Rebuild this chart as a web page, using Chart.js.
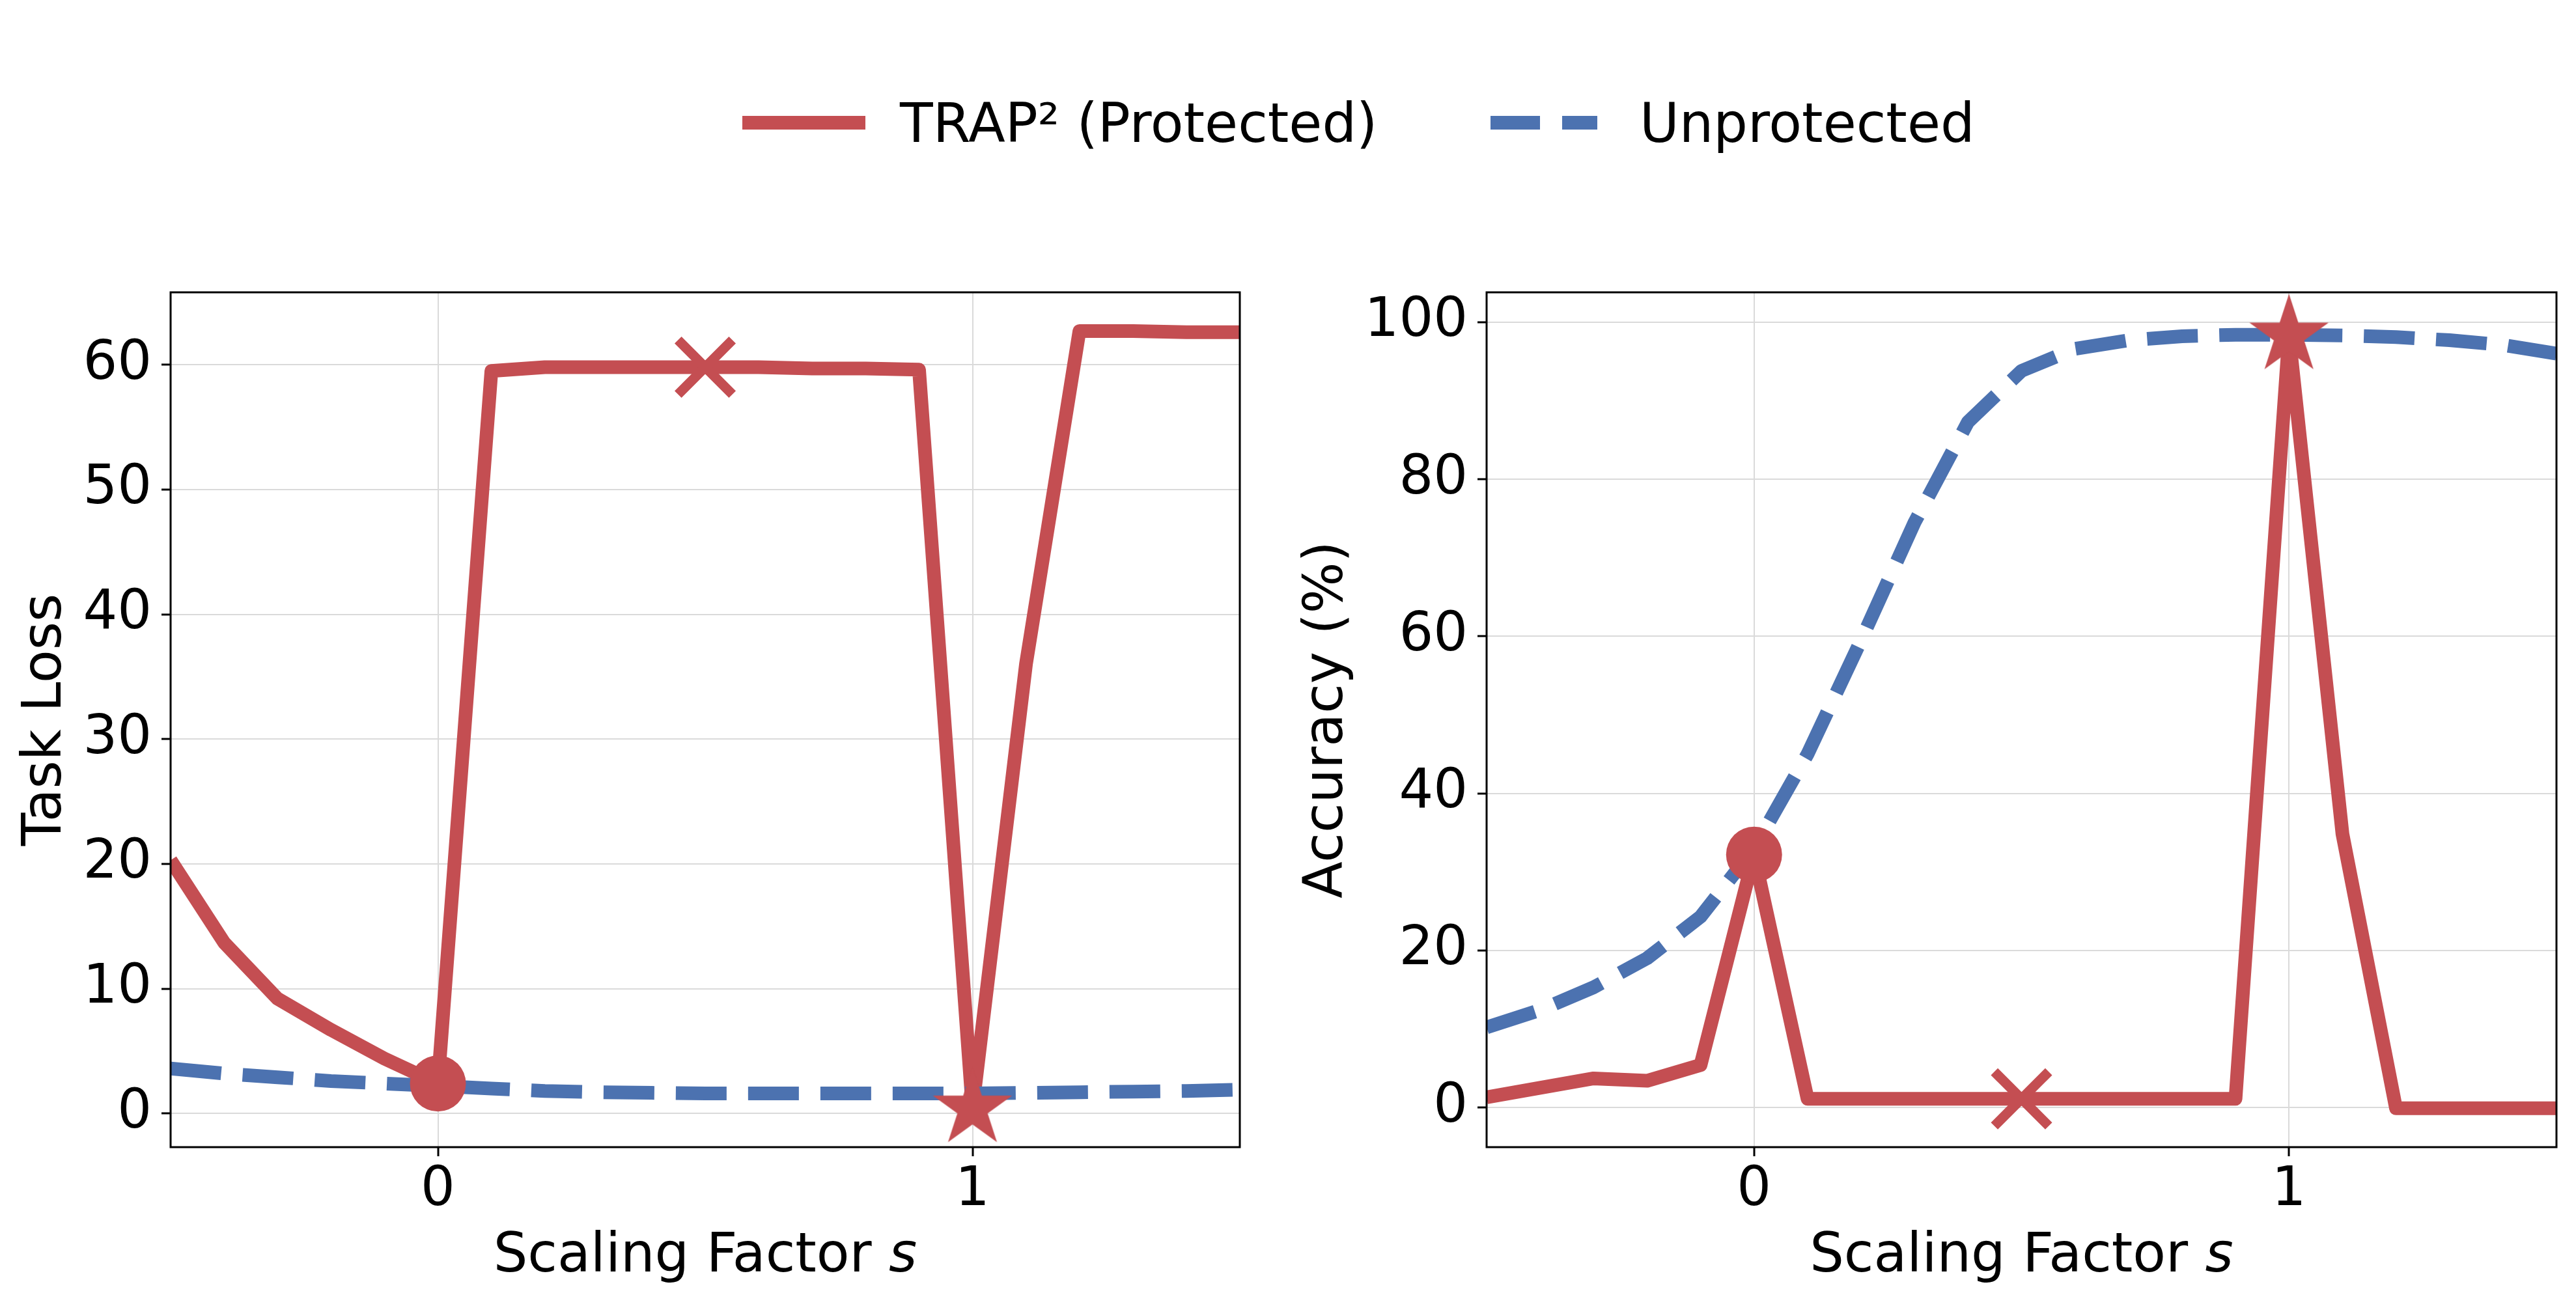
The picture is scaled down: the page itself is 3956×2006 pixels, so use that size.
<!DOCTYPE html>
<html>
<head>
<meta charset="utf-8">
<script src="https://cdn.jsdelivr.net/npm/chart.js@4/dist/chart.umd.min.js"></script>
<style>
  html, body { margin: 0; padding: 0; background: #fff; }
  body { width: 3956px; height: 2006px; position: relative; overflow: hidden; font-family: "DejaVu Sans", sans-serif; }
  canvas { position: absolute; left: 0; top: 0; }
  .lg-text { position: absolute; font-size: 83px; line-height: 83px; color: #000; white-space: nowrap; font-family: "DejaVu Sans", sans-serif; }
  .lg-swatch { position: absolute; height: 21px; }
</style>
</head>
<body>
<div class="lg-swatch" id="swRed" style="left:1140px; top:178px; width:189px; background:#C44E52;"></div>
<div class="lg-text" id="lgRed" style="left:1382px; top:148px;"></div>
<div class="lg-swatch" id="swBlue" style="left:2289px; top:178px; width:164px; background:repeating-linear-gradient(to right, #4C72B0 0px, #4C72B0 76px, transparent 76px, transparent 110px);"></div>
<div class="lg-text" id="lgBlue" style="left:2518px; top:148px;"></div>
<canvas id="cLoss" width="3956" height="2006"></canvas>
<canvas id="cAcc" width="3956" height="2006"></canvas>
<script>
// ---------------- data ----------------
const sValues = [-0.5, -0.4, -0.3, -0.2, -0.1, 0, 0.1, 0.2, 0.3, 0.4, 0.5, 0.6, 0.7, 0.8, 0.9, 1, 1.1, 1.2, 1.3, 1.4, 1.5];

const lossProtected   = [20.3, 13.7, 9.2, 6.7, 4.4, 2.4, 59.5, 59.8, 59.8, 59.8, 59.8, 59.8, 59.7, 59.7, 59.6, 0.4, 36.0, 62.7, 62.7, 62.6, 62.6];
const lossUnprotected = [3.6, 3.2, 2.9, 2.6, 2.4, 2.2, 2.0, 1.8, 1.7, 1.65, 1.6, 1.6, 1.6, 1.6, 1.6, 1.6, 1.65, 1.7, 1.75, 1.8, 1.9];

const accProtected    = [1.3, 2.5, 3.7, 3.4, 5.4, 32.2, 1.1, 1.1, 1.1, 1.1, 1.1, 1.1, 1.1, 1.1, 1.1, 98.3, 34.8, -0.1, -0.1, -0.1, -0.1];
const accUnprotected  = [10.2, 12.4, 15.3, 19.0, 24.3, 33.0, 45.0, 59.5, 74.5, 87.3, 93.8, 96.6, 97.7, 98.2, 98.4, 98.4, 98.3, 98.1, 97.7, 97.1, 96.0];

const xTickValues = [0, 1];
const lossTicks = [0, 10, 20, 30, 40, 50, 60];
const accTicks = [0, 20, 40, 60, 80, 100];

const markerS = [0, 0.5, 1];          // circle, cross, star on the protected curve
const seriesNames = ['TRAP\u00B2 (Protected)', 'Unprotected'];
const lossTitle = 'Task Loss';
const accTitle = 'Accuracy (%)';
const xTitleText = 'Scaling Factor ';
const xTitleVar = 's';

// ---------------- styles ----------------
const RED = '#C44E52';
const BLUE = '#4C72B0';
const GRID = '#dadada';
const FONT = '"DejaVu Sans"';
const FS = 83;

document.getElementById('lgRed').textContent = seriesNames[0];
document.getElementById('lgBlue').textContent = seriesNames[1];

Chart.defaults.font.family = FONT;
Chart.defaults.color = '#000';

// filled 5-point star image for the marker
function makeStar(R, color) {
  const size = Math.ceil(2 * R + 6);
  const c = document.createElement('canvas');
  c.width = size; c.height = size;
  const g = c.getContext('2d');
  const cx = size / 2, cy = size / 2;
  const r = R * 0.381966;
  g.beginPath();
  for (let i = 0; i < 10; i++) {
    const rad = (i % 2 === 0) ? R : r;
    const ang = -Math.PI / 2 + i * Math.PI / 5;
    const px = cx + rad * Math.cos(ang), py = cy + rad * Math.sin(ang);
    if (i === 0) g.moveTo(px, py); else g.lineTo(px, py);
  }
  g.closePath();
  g.fillStyle = color;
  g.fill();
  return c;
}
const starImg = makeStar(64, RED);

const framePlugin = {
  id: 'frame',
  afterDraw(chart) {
    const { ctx, chartArea: a } = chart;
    ctx.save();
    ctx.strokeStyle = '#000';
    ctx.lineWidth = 3;
    ctx.strokeRect(a.left, a.top, a.right - a.left, a.bottom - a.top);
    ctx.restore();
  }
};

const xTitlePlugin = {
  id: 'xTitle',
  afterDraw(chart) {
    const { ctx, chartArea: a } = chart;
    ctx.save();
    const fN = FS + 'px ' + FONT;
    const fI = 'italic ' + FS + 'px ' + FONT;
    ctx.font = fN; const w1 = ctx.measureText(xTitleText).width;
    ctx.font = fI; const w2 = ctx.measureText(xTitleVar).width;
    const cx = (a.left + a.right) / 2;
    const x0 = cx - (w1 + w2) / 2;
    const y = a.bottom + 191;
    ctx.fillStyle = '#000';
    ctx.textBaseline = 'alphabetic';
    ctx.textAlign = 'left';
    ctx.font = fN; ctx.fillText(xTitleText, x0, y);
    ctx.font = fI; ctx.fillText(xTitleVar, x0 + w1, y);
    ctx.restore();
  }
};

function idxOf(s) { return sValues.findIndex(v => Math.abs(v - s) < 1e-9); }

function makeChart(id, prot, unprot, yTicks, yMin, yMax, yTitle, pad, yWidth) {
  const axisGrid = { color: GRID, lineWidth: 2, tickColor: '#000', tickWidth: 3, tickLength: 14, drawTicks: true };
  return new Chart(document.getElementById(id), {
    type: 'line',
    data: {
      datasets: [
        {
          label: seriesNames[0],
          data: sValues.map((s, i) => ({ x: s, y: prot[i] })),
          borderColor: RED, backgroundColor: RED, borderWidth: 21,
          borderJoinStyle: 'round', borderCapStyle: 'butt',
          pointRadius: 0, tension: 0, clip: 0, order: 3
        },
        {
          label: seriesNames[1],
          data: sValues.map((s, i) => ({ x: s, y: unprot[i] })),
          borderColor: BLUE, backgroundColor: BLUE, borderWidth: 21,
          borderDash: [78, 33], borderCapStyle: 'butt', borderJoinStyle: 'round',
          pointRadius: 0, tension: 0, clip: 0, order: 2
        },
        {
          label: 'markers',
          data: markerS.map(s => ({ x: s, y: prot[idxOf(s)] })),
          showLine: false,
          pointStyle: ['circle', 'crossRot', starImg],
          pointRadius: [43, 59, 64],
          pointBorderWidth: [0, 15, 0],
          pointBackgroundColor: RED, pointBorderColor: RED,
          clip: 0, order: 1
        }
      ]
    },
    options: {
      responsive: false, animation: false, devicePixelRatio: 1,
      events: [],
      layout: { padding: pad, autoPadding: false },
      plugins: { legend: { display: false }, tooltip: { enabled: false }, title: { display: false } },
      scales: {
        x: {
          type: 'linear', min: -0.5, max: 1.5,
          afterBuildTicks: sc => { sc.ticks = xTickValues.map(v => ({ value: v })); },
          afterFit: sc => { sc.height = 244; sc.paddingLeft = 0; sc.paddingRight = 0; },
          grid: axisGrid,
          border: { display: false },
          ticks: { font: { size: FS }, color: '#000', padding: 4, maxRotation: 0, autoSkip: false },
          title: { display: false }
        },
        y: {
          type: 'linear', min: yMin, max: yMax,
          afterBuildTicks: sc => { sc.ticks = yTicks.map(v => ({ value: v })); },
          afterFit: sc => { sc.width = yWidth; sc.paddingTop = 0; sc.paddingBottom = 0; },
          grid: axisGrid,
          border: { display: false },
          ticks: { font: { size: FS }, color: '#000', padding: 15, autoSkip: false },
          title: { display: true, text: yTitle, color: '#000', font: { size: FS }, padding: { top: 22, bottom: 0 } }
        }
      }
    },
    plugins: [framePlugin, xTitlePlugin]
  });
}

makeChart('cLoss', lossProtected, lossUnprotected, lossTicks, -2.7, 65.8, lossTitle,
  { left: 0, right: 2052, top: 449, bottom: 0 }, 262);
makeChart('cAcc', accProtected, accUnprotected, accTicks, -5.05, 103.8, accTitle,
  { left: 1968, right: 30, top: 449, bottom: 0 }, 315);
</script>
</body>
</html>
